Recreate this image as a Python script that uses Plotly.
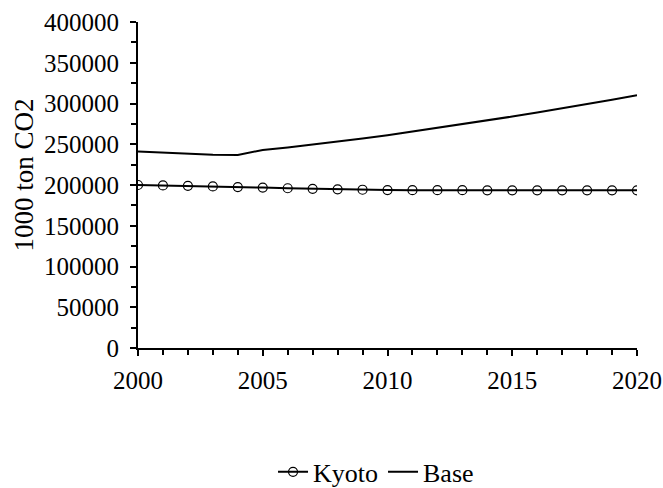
import plotly.graph_objects as go

years = list(range(2000, 2021))
kyoto = [200000, 199500, 199000, 198200, 197500, 196800, 196000, 195300, 194700, 194200,
         193800, 193700, 193600, 193600, 193500, 193500, 193500, 193500, 193500, 193500, 193500]
base = [241000, 239500, 238000, 237000, 236800, 243000, 246000, 249500, 253000, 257000,
        261000, 265500, 270000, 274500, 279000, 284000, 289000, 294000, 299000, 304500, 310000]

FAMILY = "Liberation Serif"
font = dict(family=FAMILY, size=25, color="black")

fig = go.Figure()
fig.add_trace(go.Scatter(x=years, y=kyoto, name="Kyoto", mode="lines+markers",
                         line=dict(color="black", width=2),
                         marker=dict(symbol="circle-open", size=9, color="black",
                                     line=dict(width=1.2, color="black"))))
fig.add_trace(go.Scatter(x=years, y=base, name="Base", mode="lines",
                         line=dict(color="black", width=2)))

fig.add_annotation(text="1000 ton CO2", textangle=-90, xref="paper", yref="paper",
                   x=(24 - 138) / 499, y=(348 - 175.5) / 326, xanchor="center",
                   yanchor="middle", showarrow=False,
                   font=dict(family=FAMILY, size=27, color="black"))

fig.update_layout(
    width=663, height=488,
    margin=dict(l=138, r=26, t=22, b=140, autoexpand=False),
    paper_bgcolor="white", plot_bgcolor="white",
    font=font,
    showlegend=True,
    legend=dict(orientation="h", x=0.477, xanchor="center", y=-0.38, yanchor="middle",
                font=dict(family=FAMILY, size=26, color="black"), itemwidth=30),
    xaxis=dict(range=[2000, 2020], tickvals=[2000, 2005, 2010, 2015, 2020], automargin=False,
               showline=True, linecolor="black", linewidth=2, ticks="outside",
               ticklen=6, tickwidth=2, tickcolor="black", showgrid=False, zeroline=False,
               ticklabelstandoff=3,
               minor=dict(dtick=1, ticks="outside", ticklen=5, tickwidth=2, tickcolor="black",
                          showgrid=False)),
    yaxis=dict(range=[0, 400000], dtick=50000, showline=True, linecolor="black", linewidth=2,
               ticks="outside", ticklen=6, tickwidth=2, tickcolor="black", showgrid=False,
               zeroline=False, tickformat="d", automargin=False, ticklabelstandoff=6,
               minor=dict(dtick=25000, ticks="outside", ticklen=5, tickwidth=2,
                          tickcolor="black", showgrid=False)),
)

fig.write_html("out.html", config={"displayModeBar": False},
               post_script="document.body.style.margin='0';document.body.style.overflow='hidden';")
